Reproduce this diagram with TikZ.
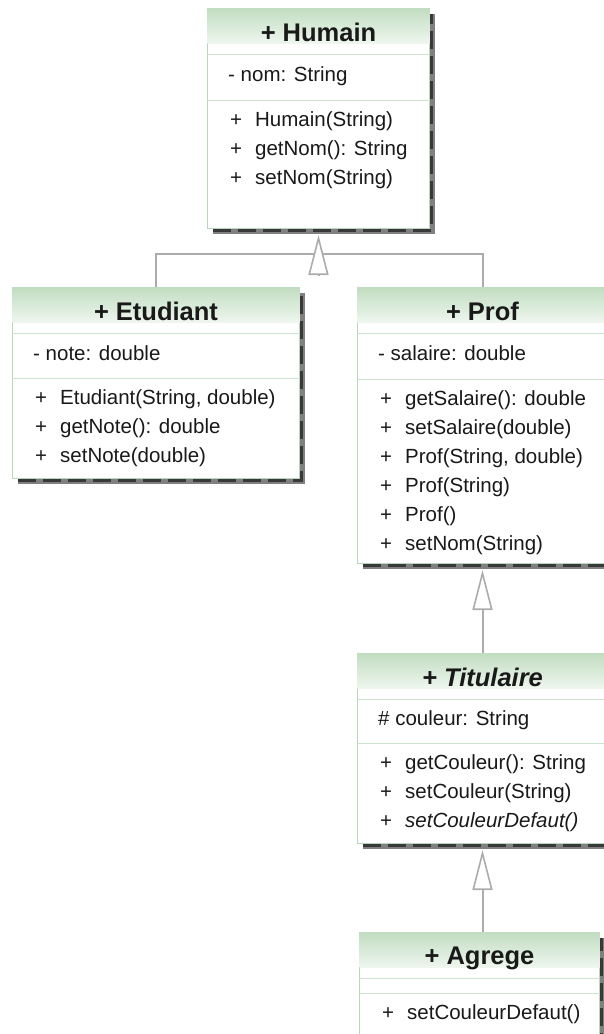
\documentclass[tikz,border=0pt]{standalone}
\usepackage{fontspec}
\setmainfont{Liberation Sans}
\usetikzlibrary{arrows.meta,calc}

\definecolor{umlborder}{RGB}{186,214,186}
\definecolor{umlhead}{RGB}{194,221,194}
\definecolor{umlheadlow}{RGB}{238,246,238}
\definecolor{umlline}{RGB}{204,226,204}
\definecolor{connector}{RGB}{172,172,172}

\tikzset{
  classbox/.style={draw=umlborder, line width=1pt, fill=white, anchor=north west, inner sep=0pt},
  shadowline/.style={line width=6pt, black!50},
  shadowdash/.style={line width=3.5pt, black!78, dash pattern=on 18pt off 7pt},
  classtitle/.style={anchor=base, inner sep=0pt, text=black!90, font=\fontsize{25.5}{30}\selectfont\bfseries},
  member/.style={anchor=base west, inner sep=0pt, text=black!90, font=\fontsize{20.5}{29}\selectfont},
  sepline/.style={draw=umlline, line width=1pt},
  conn/.style={draw=connector, line width=2pt},
  gen/.style={conn, -{Triangle[open, length=40pt, width=20pt, fill=white, line width=1.6pt]}},
}

% class box: #1 name, #2 x, #3 y, #4 width, #5 height, #6 attribute line
\newcommand{\umlclass}[6]{%
  \draw[shadowline] (#2+6,#3+#5+3) -- (#2+#4+3,#3+#5+3) -- (#2+#4+3,#3+6);
  \draw[shadowdash] (#2+6,#3+#5+2.5) -- (#2+#4+2.5,#3+#5+2.5) -- (#2+#4+2.5,#3+6);
  \node[classbox, minimum width=#4pt, minimum height=#5pt] (#1) at (#2,#3) {};
  \shade[top color=umlhead, bottom color=umlheadlow]
    ($(#1.north west)+(0.5,0.5)$) rectangle ($(#1.north east)+(-0.5,35)$);
  \draw[sepline] ($(#1.north west)+(0,46)$) -- ($(#1.north east)+(0,46)$);
  \draw[sepline] ($(#1.north west)+(0,#6)$) -- ($(#1.north east)+(0,#6)$);
}

\begin{document}
\begin{tikzpicture}[x=1pt,y=-1pt]
  \useasboundingbox (0,0) rectangle (603,1034);

  % Classes
  \umlclass{humain}{207}{8}{222}{220}{92}
  \umlclass{etudiant}{12}{287}{287}{191}{91}
  \umlclass{prof}{357}{287}{250}{276}{92}
  \umlclass{titulaire}{357}{653}{250}{190}{90}
  \umlclass{agrege}{359}{932}{240}{130}{61}

  % Humain
  \node[classtitle] (humain-title) at ($(humain.north)+(0,33)$) {+ Humain};
  \node[member] (humain-a1) at ($(humain.north west)+(21,73)$) {- nom: String};
  \foreach \m [count=\i] in {Humain(String), getNom(): String, setNom(String)}
    \node[member] (humain-m\i) at ($(humain.north west)+(23,{118+29*(\i-1)})$) {\makebox[25pt][l]{+}\m};

  % Etudiant
  \node[classtitle] (etudiant-title) at ($(etudiant.north)+(0,33)$) {+ Etudiant};
  \node[member] (etudiant-a1) at ($(etudiant.north west)+(21,73)$) {- note: double};
  \foreach \m [count=\i] in {{Etudiant(String, double)}, getNote(): double, setNote(double)}
    \node[member] (etudiant-m\i) at ($(etudiant.north west)+(23,{117+29*(\i-1)})$) {\makebox[25pt][l]{+}\m};

  % Prof
  \node[classtitle] (prof-title) at ($(prof.north)+(0,33)$) {+ Prof};
  \node[member] (prof-a1) at ($(prof.north west)+(21,73)$) {- salaire: double};
  \foreach \m [count=\i] in {getSalaire(): double, setSalaire(double), {Prof(String, double)},
                             Prof(String), Prof(), setNom(String)}
    \node[member] (prof-m\i) at ($(prof.north west)+(23,{118+29*(\i-1)})$) {\makebox[25pt][l]{+}\m};

  % Titulaire
  \node[classtitle] (titulaire-title) at ($(titulaire.north)+(0,33)$) {\itshape + Titulaire};
  \node[member] (titulaire-a1) at ($(titulaire.north west)+(21,72)$) {\# couleur: String};
  \foreach \m [count=\i] in {getCouleur(): String, setCouleur(String), \textit{setCouleurDefaut()}}
    \node[member] (titulaire-m\i) at ($(titulaire.north west)+(23,{116+29*(\i-1)})$) {\makebox[25pt][l]{+}\m};

  % Agrege
  \node[classtitle] (agrege-title) at ($(agrege.north)+(0,32)$) {+ Agrege};
  \node[member] (agrege-m1) at ($(agrege.north west)+(23,87)$) {\makebox[25pt][l]{+}setCouleurDefaut()};

  % Inheritance
  \draw[conn] (etudiant.north) -- ++(0,-33) -| (prof.north);
  \coordinate (fork) at ($(humain.south)+(0,46)$);
  \draw[gen] (fork) -- ($(humain.south)+(0,6)$);
  \draw[gen] (titulaire.north) -- ($(prof.south)+(0,6)$);
  \draw[gen] (titulaire.south |- agrege.north) -- ($(titulaire.south)+(0,6)$);
\end{tikzpicture}
\end{document}
